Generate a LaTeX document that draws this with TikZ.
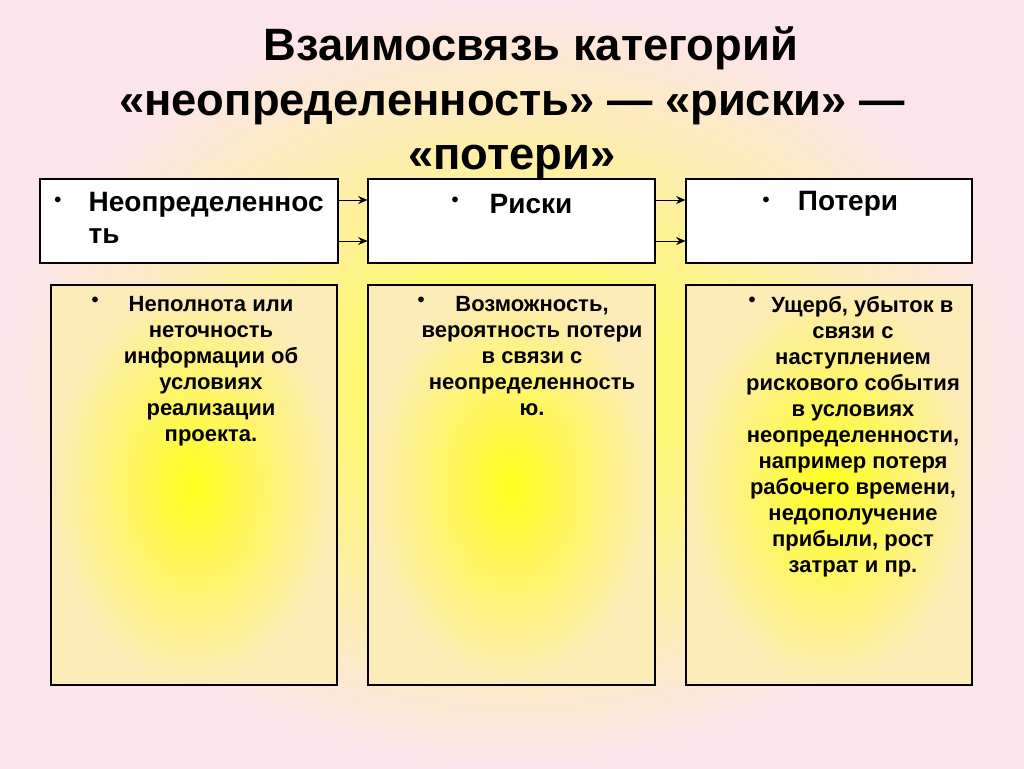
\documentclass[tikz,border=0pt]{standalone}
\usepackage{fontspec}
\setmainfont{Liberation Sans}
\usetikzlibrary{arrows.meta}
\definecolor{pinkbg}{RGB}{252,228,236}
\definecolor{yel}{RGB}{255,255,30}
\tikzset{
 top/.style={draw=black,fill=white,line width=0.8pt},
 low/.style={draw=black,line width=0.8pt,inner color=yel,outer color=yel!25!pinkbg},
 lbl/.style={font=\bfseries\fontsize{21}{24}\selectfont},
 txt/.style={font=\bfseries\fontsize{16.5}{19.5}\selectfont,align=center},
 bul/.style={font=\bfseries\fontsize{15}{16}\selectfont},
 arr/.style={-{Stealth[length=7pt,width=6pt]},line width=0.6pt}
}
\begin{document}
\begin{tikzpicture}[x=0.75pt,y=-0.75pt]
\useasboundingbox (0,0) rectangle (1024,768);
\shade[inner color=yel!85!white,outer color=pinkbg] (0,0) rectangle (1024,768);
\node[font=\bfseries\fontsize{34}{41}\selectfont,align=center] (title) at (512,103)
 {\hspace*{28pt}Взаимосвязь категорий\\«неопределенность» — «риски» —\\«потери»};
\node[top,minimum width=298*0.75pt,minimum height=84*0.75pt] (t1) at (189,221) {};
\node[top,minimum width=287*0.75pt,minimum height=84*0.75pt] (t2) at (511.5,221) {};
\node[top,minimum width=286*0.75pt,minimum height=84*0.75pt] (t3) at (829,221) {};
\node[low,minimum width=286*0.75pt,minimum height=400*0.75pt] (b1) at (194,485) {};
\node[low,minimum width=287*0.75pt,minimum height=400*0.75pt] (b2) at (511.5,485) {};
\node[low,minimum width=286*0.75pt,minimum height=400*0.75pt] (b3) at (829,485) {};
\node[bul] (u1) at (58,202) {•};
\node[bul] (u2) at (455,202) {•};
\node[bul] (u3) at (766,202) {•};
\node[lbl,anchor=north west,align=left] (l1) at (84,188) {Неопределеннос\\ть};
\node[lbl] (l2) at (531,204) {Риски};
\node[lbl] (l3) at (848,204) {Потери};
\draw[arr] (t1.east|-0,200) -- (t2.west|-0,200);
\draw[arr] (t1.east|-0,241) -- (t2.west|-0,241);
\draw[arr] (t2.east|-0,200) -- (t3.west|-0,200);
\draw[arr] (t2.east|-0,241) -- (t3.west|-0,241);
\node[bul] (v1) at (95,302) {•};
\node[bul] (v2) at (421,302) {•};
\node[bul] (v3) at (752,302) {•};
\node[txt,anchor=north] (x1) at (211,292) {Неполнота или\\неточность\\информации об\\условиях\\реализации\\проекта.};
\node[txt,anchor=north] (x2) at (532,292) {Возможность,\\вероятность потери\\в связи с\\неопределенность\\ю.};
\node[txt,anchor=north] (x3) at (853,292) {\hspace*{14pt}Ущерб, убыток в\\связи с\\наступлением\\рискового события\\в условиях\\неопределенности,\\например потеря\\рабочего времени,\\недополучение\\прибыли, рост\\затрат и пр.};
\end{tikzpicture}
\end{document}
